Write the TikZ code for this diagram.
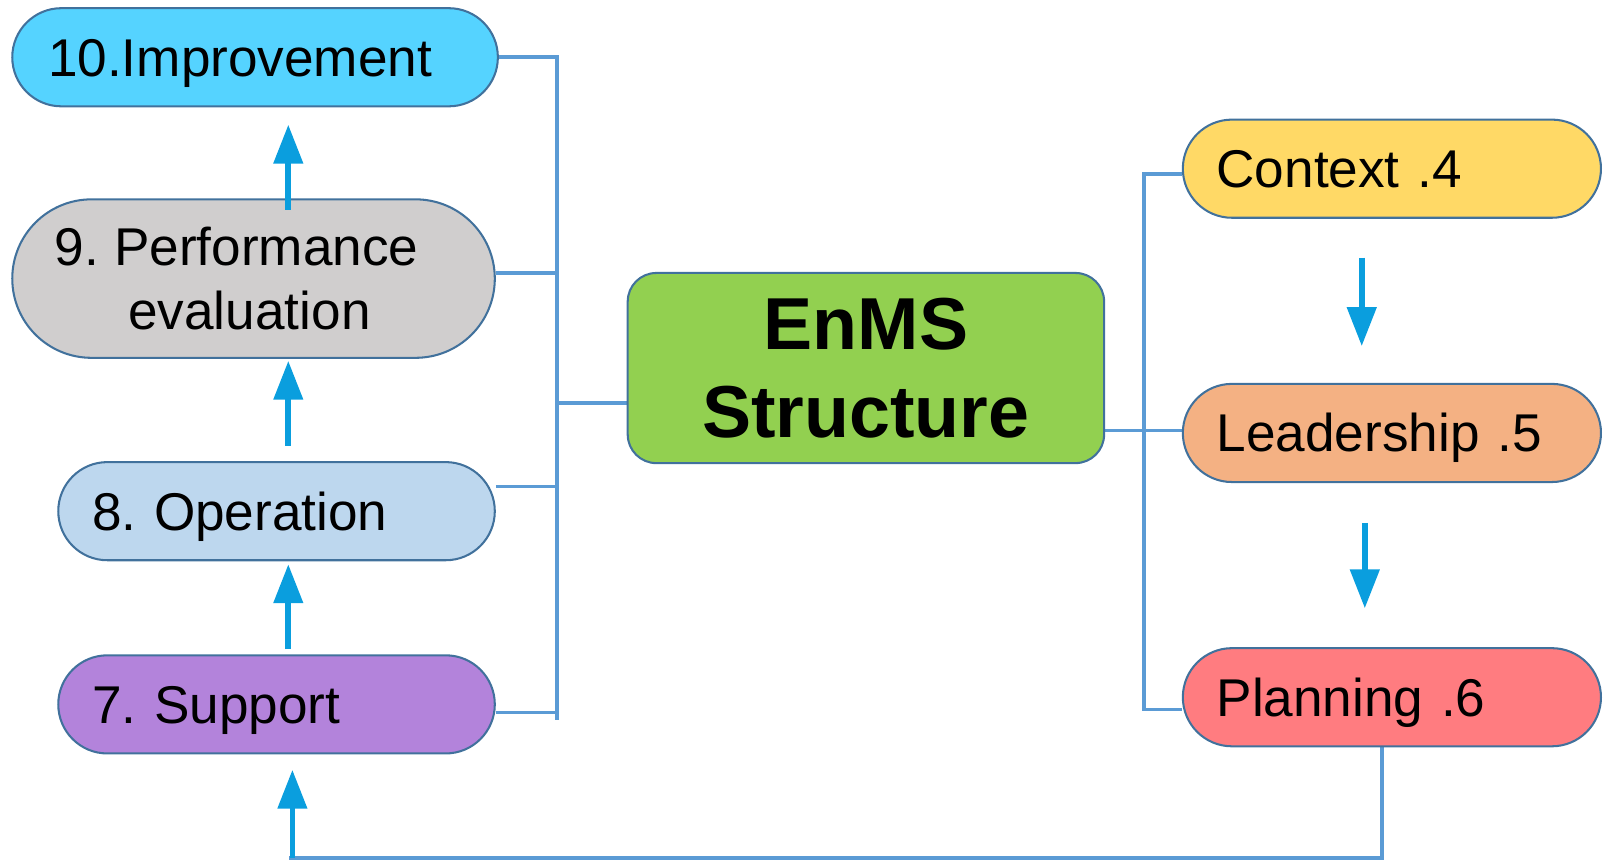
\documentclass[tikz,border=0pt]{standalone}
\usepackage{fontspec}
\setmainfont{Liberation Sans}
\usetikzlibrary{arrows.meta}
\pgfdeclarelayer{background}
\pgfsetlayers{background,main}
\frenchspacing

\definecolor{busblue}{HTML}{5B9BD5}
\definecolor{arrblue}{HTML}{0A9EDE}
\definecolor{edgeblue}{HTML}{41719C}
\definecolor{cImp}{HTML}{55D3FF}
\definecolor{cPerf}{HTML}{D0CECE}
\definecolor{cOper}{HTML}{BDD7EE}
\definecolor{cSupp}{HTML}{B383DB}
\definecolor{cEnms}{HTML}{92D050}
\definecolor{cCtx}{HTML}{FFD966}
\definecolor{cLead}{HTML}{F4B183}
\definecolor{cPlan}{HTML}{FF7C80}

\tikzset{
  stage/.style={draw=edgeblue, line width=1pt, inner xsep=0pt, inner ysep=0pt,
    font=\frenchspacing\fontsize{26pt}{31.5pt}\selectfont},
  pill/.style={stage, minimum height=48pt, rounded corners=24pt,
    text height=18.6pt, text depth=0pt, align=left},
  bus/.style={draw=busblue, line width=1.75pt},
  flow/.style={draw=arrblue, line width=2.75pt, -{Triangle[length=19pt,width=14pt]}},
}

\begin{document}
\begin{tikzpicture}[x=0.5pt, y=-0.5pt]
\useasboundingbox (0,0) rectangle (1568,841);

% left column: stages 7 to 10
\node[pill, fill=cImp, minimum width=237.5pt, text width=202.5pt] (imp) at (249.5,56) {10.Improvement};
\node[stage, fill=cPerf, minimum width=236pt, minimum height=77.5pt, rounded corners=38.75pt, align=center] (perf) at (248,272.5)
  {9. Performance\hspace*{16.5pt}\\evaluation\hspace*{4pt}};
\node[pill, fill=cOper, minimum width=213.5pt, text width=180.5pt] (oper) at (270.5,500) {8. Operation};
\node[pill, fill=cSupp, minimum width=213.5pt, text width=180.5pt] (supp) at (270.5,689) {7. Support};

% centre
\node[stage, fill=cEnms, minimum width=233pt, minimum height=93pt, rounded corners=14pt, align=center,
  font=\bfseries\fontsize{36pt}{43.3pt}\selectfont] (enms) at (847,360) {EnMS\\Structure};

% right column: stages 4 to 6
\node[pill, fill=cCtx, minimum width=204.5pt, text width=171.5pt] (ctx) at (1361.5,165) {Context .4};
\node[pill, fill=cLead, minimum width=204.5pt, text width=171.5pt] (lead) at (1361.5,423.5) {Leadership .5};
\node[pill, fill=cPlan, minimum width=204.5pt, text width=171.5pt] (plan) at (1361.5,682) {Planning .6};

% bus junctions
\coordinate (lT) at (545,56);
\coordinate (lP) at (545,267);
\coordinate (lE) at (545,394);
\coordinate (lO) at (545,476);
\coordinate (lS) at (545,697);
\coordinate (lB) at (545,704);
\coordinate (rT) at (1119,170);
\coordinate (rM) at (1119,421);
\coordinate (rB) at (1119,694);
\coordinate (fb) at (286,839);

\begin{pgfonlayer}{background}
  \draw[bus] (imp.east) -- (lT) -- (lB);
  \draw[bus] (lP -| perf.east) -- (lP);
  \draw[bus] (lO -| oper.east) -- (lO);
  \draw[bus] (lS -| supp.east) -- (lS);
  \draw[bus] (lE) -- (lE -| enms.west);
  \draw[bus] (rT -| ctx.west) -- (rT) -- (rB) -- (rB -| plan.west);
  \draw[bus] (rM -| enms.east) -- (rM -| lead.west);
  \draw[bus] ([xshift=-4.75pt]plan.south) |- ([xshift=-1.5pt]fb);
\end{pgfonlayer}

% flow arrows
\draw[flow] ([shift={(34,11)}]perf.north) -- ([shift={(32.5,17)}]imp.south);
\draw[flow] ([shift={(11.5,-15)}]oper.north) -- ([shift={(34,2)}]perf.south);
\draw[flow] ([shift={(11.5,-5)}]supp.north) -- ([shift={(11.5,3)}]oper.south);
\draw[flow] (fb) -- ([shift={(15.5,15)}]supp.south);
\draw[flow] ([shift={(-29.5,38)}]ctx.south) -- ([shift={(-29.5,-36)}]lead.north);
\draw[flow] ([shift={(-26.5,39)}]lead.south) -- ([shift={(-26.5,-38)}]plan.north);
\end{tikzpicture}
\end{document}
